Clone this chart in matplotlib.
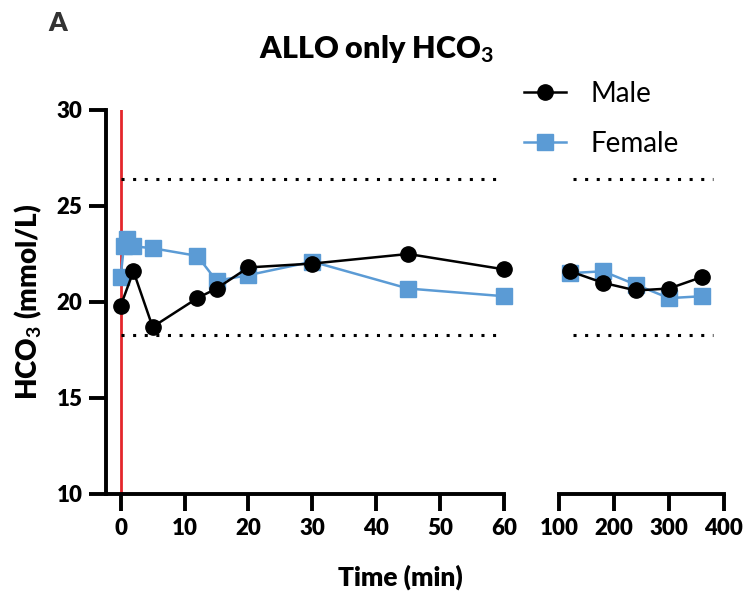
import matplotlib
matplotlib.use("Agg")
import matplotlib.pyplot as plt

# DATOS ---------------------------------------------
# tramo 1 (0-60 min)
tiempo_male_1 = [0, 2, 5, 12, 15, 20, 30, 45, 60]
hco3_male_1 = [19.8, 21.6, 18.7, 20.2, 20.7, 21.8, 22.0, 22.5, 21.7]
tiempo_female_1 = [0, 0.5, 1, 2, 5, 12, 15, 20, 30, 45, 60]
hco3_female_1 = [21.3, 22.9, 23.3, 22.9, 22.8, 22.4, 21.1, 21.4, 22.1, 20.7, 20.3]
# tramo 2 (100-400 min)
tiempo_2 = [120, 180, 240, 300, 360]
hco3_male_2 = [21.6, 21.0, 20.6, 20.7, 21.3]
hco3_female_2 = [21.5, 21.6, 20.9, 20.2, 20.3]
# rango normal (lineas punteadas)
rango_normal = [18.3, 26.4]
ticks_1 = [0, 10, 20, 30, 40, 50, 60]
ticks_2 = [100, 200, 300, 400]
ticks_y = [10, 15, 20, 25, 30]

# ESTILO ---------------------------------------------
plt.rcParams["font.family"] = ["Lato", "DejaVu Sans"]
plt.rcParams["mathtext.fontset"] = "custom"
plt.rcParams["mathtext.rm"] = "Lato:bold"
plt.rcParams["mathtext.default"] = "rm"

azul = "#5B9BD5"
rojo = "#E4262B"
lw_eje = 2.8
peso = "heavy"

fig = plt.figure(figsize=(7.49, 6.0), dpi=100)
ax1 = fig.add_axes([0.1415, 0.1767, 0.5314, 0.64])
ax2 = fig.add_axes([0.7463, 0.1767, 0.2203, 0.64])

# linea roja en t=0
ax1.axvline(0, color=rojo, lw=2, zorder=1)

# rango normal
ax1.hlines(rango_normal, 0, 60, colors="black", lw=2.2, linestyles=(0, (1, 2.8)), zorder=1)
ax2.hlines(rango_normal, 125, 380, colors="black", lw=2.2, linestyles=(0, (1, 2.8)), zorder=1)

# series
ax1.plot(tiempo_female_1, hco3_female_1, color=azul, lw=1.8, marker="s", ms=11,
         mec=azul, zorder=3, clip_on=False, label="Female")
ax1.plot(tiempo_male_1, hco3_male_1, color="black", lw=1.8, marker="o", ms=11,
         zorder=4, clip_on=False, label="Male")
ax2.plot(tiempo_2, hco3_female_2, color=azul, lw=1.8, marker="s", ms=11,
         mec=azul, zorder=3, clip_on=False)
ax2.plot(tiempo_2, hco3_male_2, color="black", lw=1.8, marker="o", ms=11,
         zorder=4, clip_on=False)

# EJES -----------------------------------------------
ax1.set_xlim(-2.3, 60)
ax2.set_xlim(100, 400)
for ax in (ax1, ax2):
    ax.set_ylim(10, 30)
    ax.spines["top"].set_visible(False)
    ax.spines["right"].set_visible(False)
    ax.spines["bottom"].set_linewidth(lw_eje)
    ax.spines["left"].set_linewidth(lw_eje)
    ax.tick_params(axis="both", which="major", direction="out", length=12,
                   width=lw_eje, labelsize=16, pad=5)
    ax.tick_params(axis="x", which="minor", direction="in", length=8, width=lw_eje)

ax1.set_xticks(ticks_1)
ax1.set_xticks([60], minor=True)
ax1.set_yticks(ticks_y)
ax1.set_xticklabels([str(t) for t in ticks_1], fontweight=peso)
ax1.set_yticklabels([str(t) for t in ticks_y], fontweight=peso)

ax2.set_xticks(ticks_2)
ax2.set_xticks([100], minor=True)
ax2.set_xticklabels([str(t) for t in ticks_2], fontweight=peso)
ax2.spines["left"].set_visible(False)
ax2.set_yticks([])

ax1.set_ylabel(r"HCO$_3$ (mmol/L)", fontsize=20, fontweight=peso)
ax1.yaxis.set_label_coords(-0.156, 0.5)

# TEXTOS ---------------------------------------------
fig.text(0.535, 0.038, "Time (min)", ha="center", va="center", fontsize=19, fontweight=peso)
fig.text(0.502, 0.918, r"ALLO only HCO$_3$", ha="center", va="center", fontsize=22, fontweight=peso)
fig.text(0.077, 0.962, "A", ha="center", va="center", fontsize=19, fontweight=peso, color="#333333")

handles, labels = ax1.get_legend_handles_labels()
fig.legend(handles[::-1], labels[::-1], loc="upper left", bbox_to_anchor=(524 / 749, 1 - 81 / 600),
           frameon=False, fontsize=20, handlelength=1.5, handletextpad=0.9,
           labelspacing=0.85, borderpad=0, borderaxespad=0)

fig.savefig("out.png", dpi=100)
